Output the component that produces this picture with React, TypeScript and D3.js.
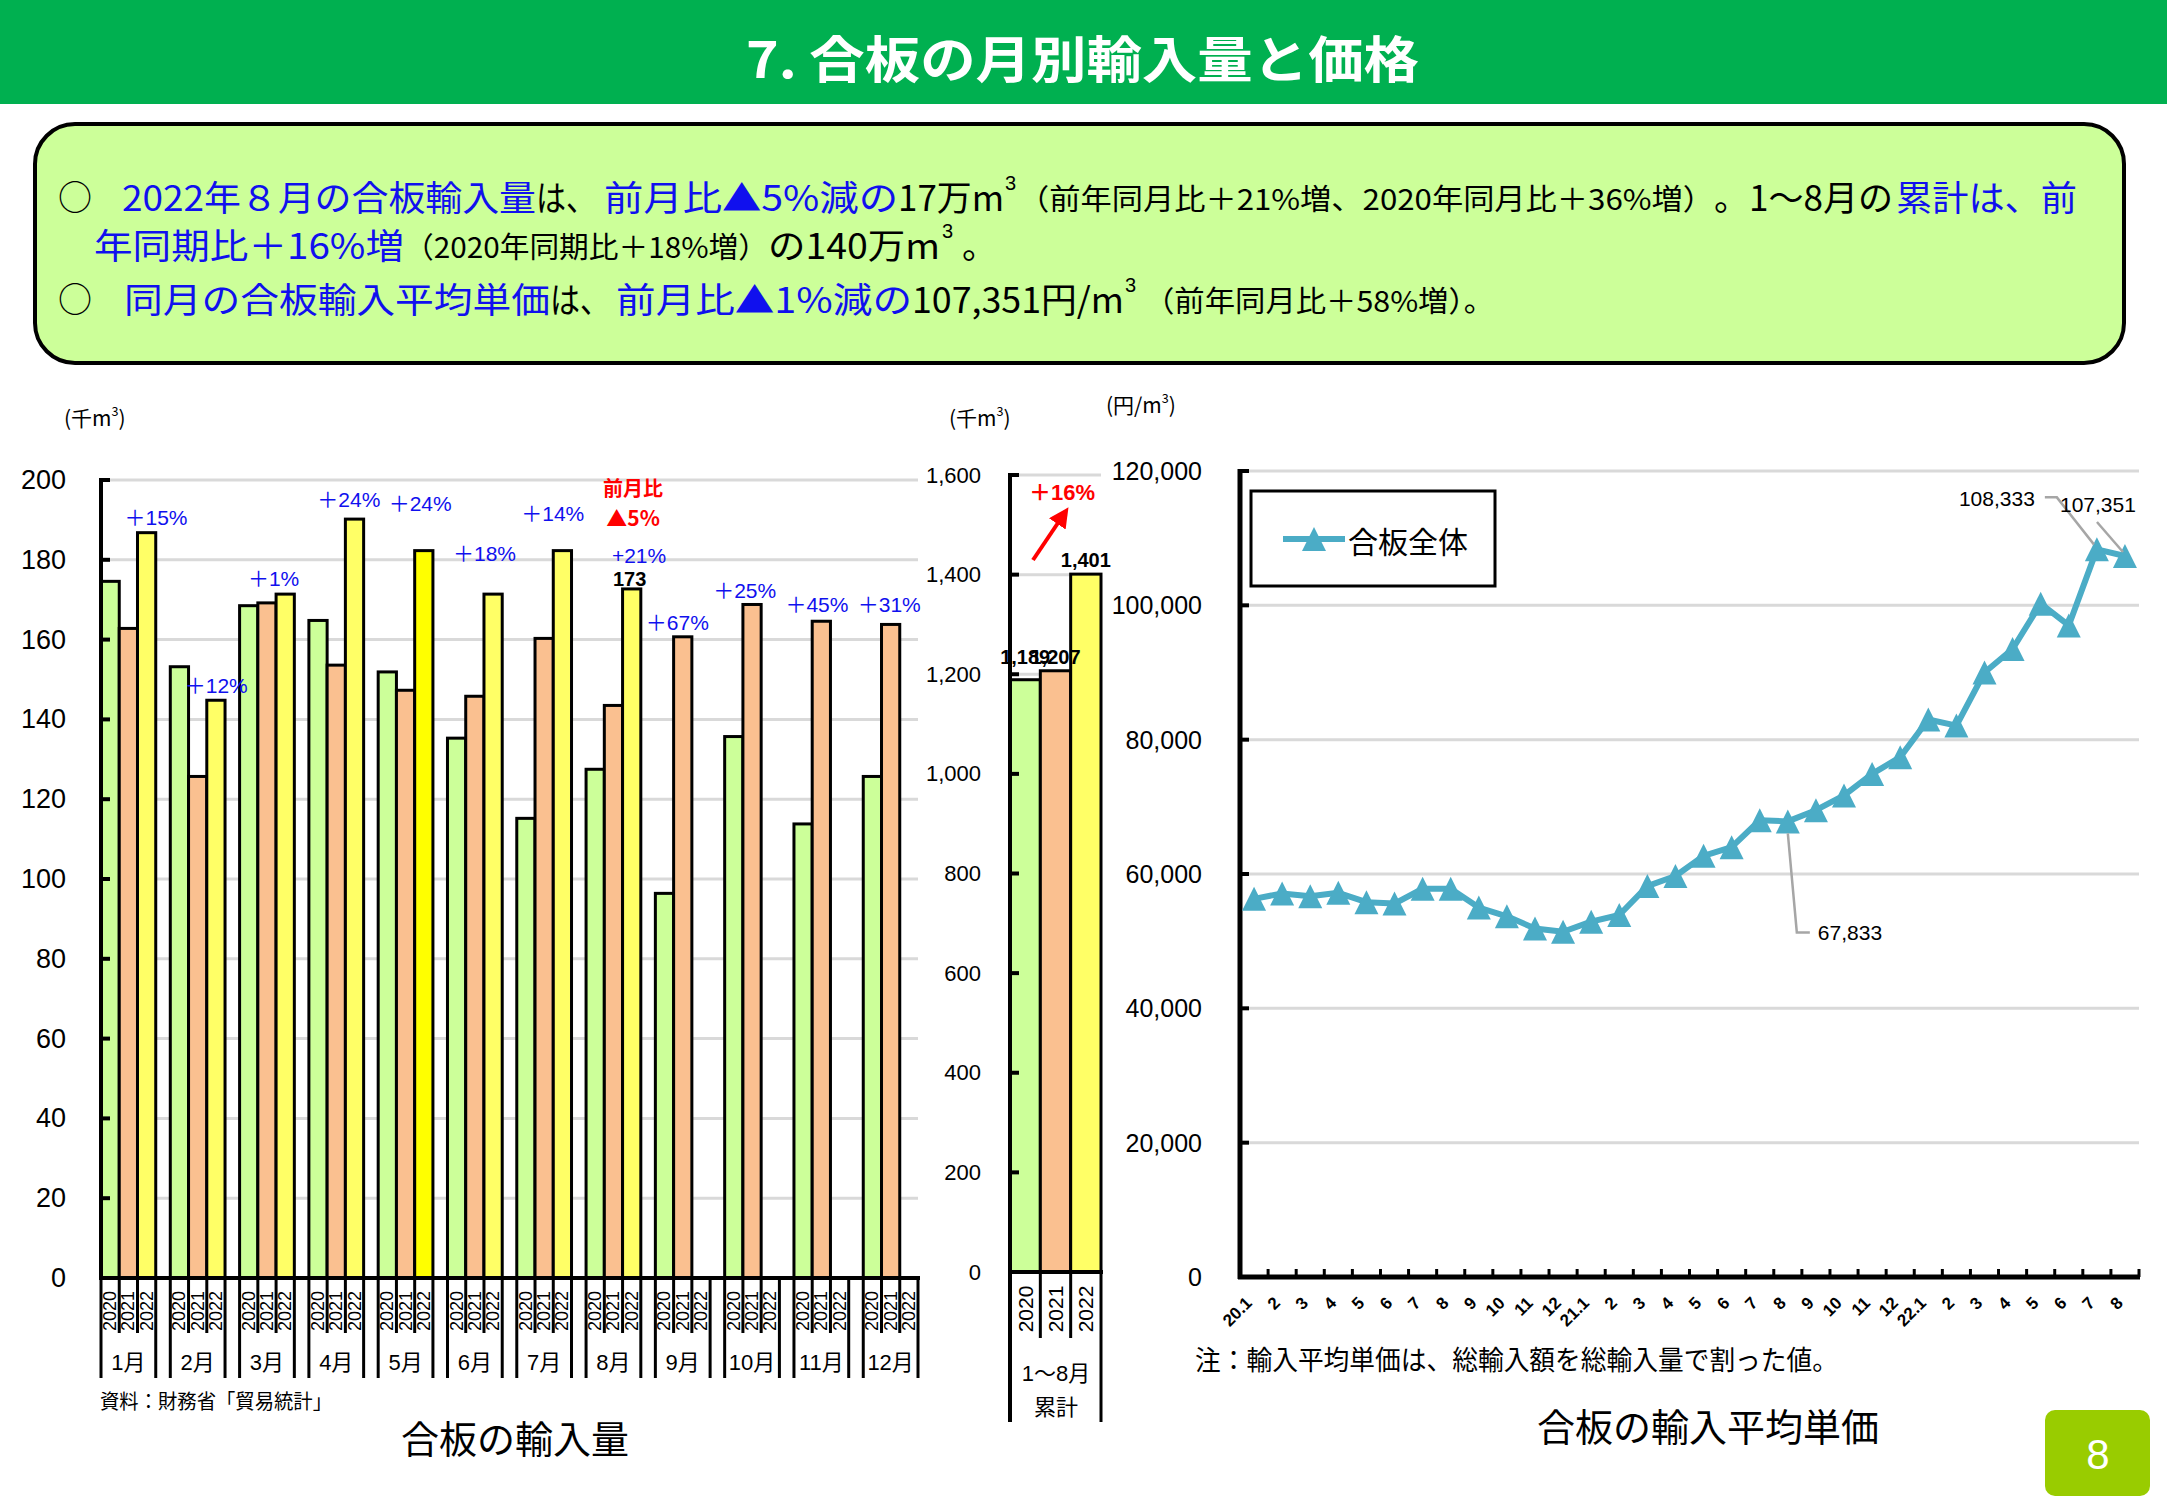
import React from "react";
import * as d3 from "d3";

// ---------------- DATA ----------------
const monthLabels = ["1月", "2月", "3月", "4月", "5月", "6月", "7月", "8月", "9月", "10月", "11月", "12月"];
const yearLabels = ["2020", "2021", "2022"];
const imports2020 = [174.6, 153.2, 168.5, 164.8, 151.9, 135.3, 115.2, 127.5, 96.4, 135.7, 113.8, 125.7];
const imports2021 = [162.8, 125.7, 169.2, 153.6, 147.3, 145.8, 160.3, 143.5, 160.7, 168.8, 164.6, 163.8];
const imports2022 = [186.8, 144.8, 171.4, 190.2, 182.3, 171.4, 182.3, 172.7, null, null, null, null];
const yoyLabels = ["＋15%", "＋12%", "＋1%", "＋24%", "＋24%", "＋18%", "＋14%", "+21%", "＋67%", "＋25%", "＋45%", "＋31%"];
const volumeTicks = [0, 20, 40, 60, 80, 100, 120, 140, 160, 180, 200];

const cumulativeYears = ["2020", "2021", "2022"];
const cumulativeValues = [1189, 1207, 1401];
const cumulativeLabels = ["1,189", "1,207", "1,401"];
const cumulativeTicks = [0, 200, 400, 600, 800, 1000, 1200, 1400, 1600];

const priceLabels = [
  "20.1", "2", "3", "4", "5", "6", "7", "8", "9", "10", "11", "12",
  "21.1", "2", "3", "4", "5", "6", "7", "8", "9", "10", "11", "12",
  "22.1", "2", "3", "4", "5", "6", "7", "8",
];
const priceValues = [
  56300, 57100, 56700, 57200, 55800, 55600, 57800, 57800, 55000, 53700, 51900, 51400,
  52900, 53900, 58200, 59700, 62700, 64000, 68000, 67833, 69500, 71700, 74900, 77400,
  83000, 82100, 90000, 93500, 100250, 97000, 108333, 107351,
];
const priceTicks = [0, 20000, 40000, 60000, 80000, 100000, 120000];
const priceTickLabels = ["0", "20,000", "40,000", "60,000", "80,000", "100,000", "120,000"];

// ---------------- LAYOUT (not data) ----------------
// annotation placement: offset from month band start, and height in value units
const yoyLayout = [
  { dx: 55, v: 190.7 }, { dx: 46, v: 148.6 }, { dx: 34, v: 175.2 }, { dx: 40, v: 195.2 },
  { dx: 42, v: 194.0 }, { dx: 37, v: 181.7 }, { dx: 36, v: 191.7 }, { dx: 53, v: 181.2 },
  { dx: 22, v: 164.4 }, { dx: 20, v: 172.4 }, { dx: 23, v: 168.7 }, { dx: 26, v: 168.9 },
];

const BLUE = "#1010EE";
const JP = "'Noto Sans CJK JP', sans-serif";
const NUM = "'Liberation Sans', 'Noto Sans CJK JP', sans-serif";

type Seg = { t: string; x: number; y: number; w?: number; s: number; c: string; sup?: boolean };
const infoSegs: Seg[] = [
  { t: "○", x: 58, y: 195, s: 34, c: "#000" },
  { t: "2022年８月の合板輸入量", x: 122, y: 195, w: 414, s: 35, c: BLUE },
  { t: "は、", x: 536, y: 195, w: 60, s: 35, c: "#000" },
  { t: "前月比▲5%減の", x: 604, y: 195, w: 294, s: 35, c: BLUE },
  { t: "17万m", x: 898, y: 195, w: 106, s: 35, c: "#000" },
  { t: "3", x: 1005, y: 183, s: 20, c: "#000", sup: true },
  { t: "（前年同月比＋21%増、2020年同月比＋36%増）", x: 1018, y: 197, w: 696, s: 29, c: "#000" },
  { t: "。1～8月の", x: 1714, y: 195, w: 179, s: 35, c: "#000" },
  { t: "累計は、前", x: 1896, y: 195, w: 181, s: 35, c: BLUE },

  { t: "年同期比＋16%増", x: 94, y: 243, w: 310, s: 35, c: BLUE },
  { t: "（2020年同期比＋18%増）", x: 404, y: 245, w: 364, s: 29, c: "#000" },
  { t: "の140万m", x: 768, y: 243, w: 172, s: 35, c: "#000" },
  { t: "3", x: 942, y: 231, s: 20, c: "#000", sup: true },
  { t: "。", x: 962, y: 243, s: 35, c: "#000" },

  { t: "○", x: 58, y: 297, s: 34, c: "#000" },
  { t: "同月の合板輸入平均単価", x: 124, y: 297, w: 426, s: 35, c: BLUE },
  { t: "は、", x: 550, y: 297, w: 60, s: 35, c: "#000" },
  { t: "前月比▲1%減の", x: 616, y: 297, w: 296, s: 35, c: BLUE },
  { t: "107,351円/m", x: 912, y: 297, w: 212, s: 35, c: "#000" },
  { t: "3", x: 1125, y: 285, s: 20, c: "#000", sup: true },
  { t: "（前年同月比＋58%増）。", x: 1144, y: 299, w: 350, s: 29, c: "#000" },
];

const W = 2167;
const H = 1500;

function Unit({ x, y, label, size }: { x: number; y: number; label: string; size: number }) {
  return (
    <text x={x} y={y} fontSize={size} fontFamily={JP} dominantBaseline="central">
      {label}
      <tspan fontSize={size * 0.6} dy={-size * 0.35}>3</tspan>
      <tspan dy={size * 0.35}>)</tspan>
    </text>
  );
}

export default function App() {
  // ---------- left: monthly volume ----------
  const yL = d3.scaleLinear().domain([0, 200]).range([1278, 480]);
  const xM = d3.scaleBand<string>().domain(monthLabels).range([101, 918]).paddingInner(0.21).paddingOuter(0);
  const xY = d3.scaleBand<string>().domain(yearLabels).range([0, xM.bandwidth()]).padding(0);
  const series = [imports2020, imports2021, imports2022];
  const colors = ["#CCFF99", "#FAC090", "#FFFF66"];

  // ---------- middle: cumulative ----------
  const yC = d3.scaleLinear().domain([0, 1600]).range([1272, 475]);
  const xC = d3.scaleBand<string>().domain(cumulativeYears).range([1010, 1101]).padding(0);

  // ---------- right: price ----------
  const yP = d3.scaleLinear().domain([0, 120000]).range([1277, 471]);
  const xP = d3.scalePoint<number>().domain(d3.range(priceValues.length)).range([1240, 2139]).padding(0.5);
  const pStep = xP.step();
  const linePath = d3.line<number>().x((_, i) => xP(i) as number).y((d) => yP(d))(priceValues) || "";
  const tri = "M0,-12L12,12L-12,12Z";
  const lineColor = "#4BACC6";

  const i7 = priceValues.length - 2;
  const i8 = priceValues.length - 1;
  const iAug21 = 19;

  return (
    <svg
      width={W}
      height={H}
      viewBox={`0 0 ${W} ${H}`}
      style={{ position: "absolute", left: 0, top: 0, display: "block", background: "#fff" }}
      fontFamily={NUM}
    >
      <defs>
        <marker id="arrowRed" viewBox="0 0 10 10" refX="6" refY="5" markerWidth="5" markerHeight="5" orient="auto">
          <path d="M0,0L10,5L0,10Z" fill="#FF0000" />
        </marker>
      </defs>
      <rect x={0} y={0} width={W} height={H} fill="#fff" />

      {/* header */}
      <rect x={0} y={0} width={W} height={104} fill="#00B050" />
      <text x={746} y={56} fontSize={50} fontWeight="bold" fill="#fff" fontFamily={JP} dominantBaseline="central"
        textLength={673} lengthAdjust="spacingAndGlyphs">7. 合板の月別輸入量と価格</text>

      {/* info box */}
      <rect x={35} y={124} width={2089} height={239} rx={40} ry={40} fill="#CCFF99" stroke="#000" strokeWidth={4} />
      {infoSegs.map((s, i) => (
        <text key={i} x={s.x} y={s.y} fontSize={s.s} fill={s.c} fontFamily={s.sup ? NUM : JP}
          dominantBaseline="central"
          {...(s.w ? { textLength: s.w, lengthAdjust: "spacingAndGlyphs" } : {})}>{s.t}</text>
      ))}

      {/* ===== left chart ===== */}
      <Unit x={64} y={417} label="(千m" size={21} />
      {volumeTicks.filter((t) => t > 0).map((t) => (
        <line key={t} x1={101} x2={918} y1={yL(t)} y2={yL(t)} stroke="#D9D9D9" strokeWidth={3} />
      ))}
      {monthLabels.map((m, i) =>
        series.map((s, j) => {
          const v = s[i];
          if (v == null) return null;
          const x = (xM(m) as number) + (xY(yearLabels[j]) as number);
          const fill = i === 4 && j === 2 ? "#FFFF00" : colors[j];
          return (
            <rect key={`${m}-${j}`} x={x} y={yL(v)} width={xY.bandwidth()} height={yL(0) - yL(v)}
              fill={fill} stroke="#000" strokeWidth={3} />
          );
        })
      )}
      {/* y axis */}
      <line x1={101} x2={101} y1={yL(200) - 2} y2={yL(0) + 2} stroke="#000" strokeWidth={4} />
      {volumeTicks.map((t) => (
        <g key={t}>
          <line x1={101} x2={110} y1={yL(t)} y2={yL(t)} stroke="#000" strokeWidth={4} />
          <text x={66} y={yL(t)} fontSize={27} textAnchor="end" dominantBaseline="central">{t}</text>
        </g>
      ))}
      <line x1={99} x2={920} y1={yL(0)} y2={yL(0)} stroke="#000" strokeWidth={4} />
      {/* x axis labels */}
      {monthLabels.map((m, i) => {
        const x0 = xM(m) as number;
        const x1 = x0 + xM.bandwidth();
        return (
          <g key={m}>
            <line x1={x0} x2={x0} y1={yL(0)} y2={1378} stroke="#000" strokeWidth={3} />
            <line x1={x1} x2={x1} y1={yL(0)} y2={1378} stroke="#000" strokeWidth={3} />
            {yearLabels.map((yv, j) => {
              const sx = x0 + (xY(yv) as number);
              const cx = sx + xY.bandwidth() / 2;
              return (
                <g key={yv}>
                  {j > 0 && <line x1={sx} x2={sx} y1={yL(0)} y2={1333} stroke="#000" strokeWidth={3} />}
                  <text transform={`translate(${cx},1311) rotate(-90)`} fontSize={18} textAnchor="middle"
                    dominantBaseline="central">{yv}</text>
                </g>
              );
            })}
            <text x={(x0 + x1) / 2} y={1362} fontSize={22} textAnchor="middle" dominantBaseline="central">{m}</text>
          </g>
        );
      })}
      {/* annotations */}
      {monthLabels.map((m, i) => (
        <text key={m} x={(xM(m) as number) + yoyLayout[i].dx} y={yL(yoyLayout[i].v)} fontSize={21} fill={BLUE}
          textAnchor="middle" dominantBaseline="central">{yoyLabels[i]}</text>
      ))}
      <text x={(xM("8月") as number) + 47} y={yL(198.2)} fontSize={20} fill="#FF0000" fontWeight="bold" fontFamily={JP}
        textAnchor="middle" dominantBaseline="central">前月比</text>
      <text x={(xM("8月") as number) + 47} y={yL(190.8)} fontSize={21} fill="#FF0000" fontWeight="bold" fontFamily={JP}
        textAnchor="middle" dominantBaseline="central">▲5%</text>
      <text x={(xM("8月") as number) + (xY("2022") as number) + xY.bandwidth() / 2 - 2} y={yL(imports2022[7] as number) - 10}
        fontSize={20} fontWeight="bold" textAnchor="middle" dominantBaseline="central">173</text>
      <text x={100} y={1400} fontSize={20} fontFamily={JP} dominantBaseline="central"
        textLength={232} lengthAdjust="spacingAndGlyphs">資料：財務省「貿易統計」</text>
      <text x={515} y={1436} fontSize={38} fontFamily={JP} textAnchor="middle" dominantBaseline="central">合板の輸入量</text>

      {/* ===== cumulative chart ===== */}
      <Unit x={949} y={417} label="(千m" size={21} />
      {cumulativeTicks.filter((t) => t > 0).map((t) => (
        <line key={t} x1={1010} x2={1101} y1={yC(t)} y2={yC(t)} stroke="#D9D9D9" strokeWidth={3} />
      ))}
      {cumulativeValues.map((v, j) => (
        <rect key={j} x={xC(cumulativeYears[j]) as number} y={yC(v)} width={xC.bandwidth()} height={yC(0) - yC(v)}
          fill={colors[j]} stroke="#000" strokeWidth={3} />
      ))}
      <line x1={1010} x2={1010} y1={yC(1600) - 2} y2={1422} stroke="#000" strokeWidth={4} />
      <line x1={1101} x2={1101} y1={yC(0)} y2={1422} stroke="#000" strokeWidth={3} />
      {cumulativeTicks.map((t) => (
        <g key={t}>
          <line x1={1010} x2={1019} y1={yC(t)} y2={yC(t)} stroke="#000" strokeWidth={4} />
          <text x={981} y={yC(t)} fontSize={22} textAnchor="end" dominantBaseline="central">{d3.format(",")(t)}</text>
        </g>
      ))}
      <line x1={1008} x2={1103} y1={yC(0)} y2={yC(0)} stroke="#000" strokeWidth={4} />
      {cumulativeYears.map((yv, j) => {
        const sx = xC(yv) as number;
        return (
          <g key={yv}>
            {j > 0 && <line x1={sx} x2={sx} y1={yC(0)} y2={1338} stroke="#000" strokeWidth={3} />}
            <text transform={`translate(${sx + xC.bandwidth() / 2},1309) rotate(-90)`} fontSize={21}
              textAnchor="middle" dominantBaseline="central">{yv}</text>
          </g>
        );
      })}
      <text x={1056} y={1373} fontSize={22} textAnchor="middle" dominantBaseline="central">1～8月</text>
      <text x={1056} y={1405} fontSize={22} fontFamily={JP} textAnchor="middle" dominantBaseline="central">累計</text>
      {cumulativeValues.map((v, j) => {
        const top = j < 2 ? yC(d3.max(cumulativeValues.slice(0, 2)) as number) : yC(v);
        return (
          <text key={j} x={(xC(cumulativeYears[j]) as number) + xC.bandwidth() / 2} y={top - 14} fontSize={20}
            fontWeight="bold" textAnchor="middle" dominantBaseline="central">{cumulativeLabels[j]}</text>
        );
      })}
      <text x={1062} y={492} fontSize={22} fill="#FF0000" fontWeight="bold" textAnchor="middle"
        dominantBaseline="central">＋16%</text>
      <line x1={1033} y1={560} x2={1064} y2={514} stroke="#FF0000" strokeWidth={4} markerEnd="url(#arrowRed)" />

      {/* ===== price chart ===== */}
      <Unit x={1106} y={404} label="(円/m" size={21} />
      {priceTicks.filter((t) => t > 0).map((t) => (
        <line key={t} x1={1240} x2={2139} y1={yP(t)} y2={yP(t)} stroke="#D9D9D9" strokeWidth={3} />
      ))}
      <line x1={1240} x2={1240} y1={yP(120000) - 2} y2={yP(0) + 2} stroke="#000" strokeWidth={5} />
      {priceTicks.map((t, i) => (
        <g key={t}>
          <line x1={1240} x2={1249} y1={yP(t)} y2={yP(t)} stroke="#000" strokeWidth={4} />
          <text x={1202} y={yP(t)} fontSize={25} textAnchor="end" dominantBaseline="central">{priceTickLabels[i]}</text>
        </g>
      ))}
      <line x1={1238} x2={2140} y1={yP(0)} y2={yP(0)} stroke="#000" strokeWidth={5} />
      {priceLabels.map((lab, i) => {
        const cx = xP(i) as number;
        const bx = cx + pStep / 2;
        return (
          <g key={i}>
            <line x1={bx} x2={bx} y1={yP(0)} y2={yP(0) - 8} stroke="#000" strokeWidth={3} />
            <text transform={`translate(${cx - 1},1304) rotate(-45)`} fontSize={17} fontWeight="bold"
              textAnchor="end">{lab}</text>
          </g>
        );
      })}
      <path d={linePath} fill="none" stroke={lineColor} strokeWidth={6} strokeLinejoin="round" />
      {priceValues.map((v, i) => (
        <path key={i} d={tri} transform={`translate(${xP(i)},${yP(v)})`} fill={lineColor} />
      ))}
      {/* data labels */}
      <polyline points={`${xP(iAug21)},${yP(priceValues[iAug21]) + 12} ${(xP(iAug21) as number) + 9},${yP(priceValues[iAug21]) + 111} ${(xP(iAug21) as number) + 22},${yP(priceValues[iAug21]) + 111}`}
        fill="none" stroke="#A6A6A6" strokeWidth={2.5} />
      <text x={(xP(iAug21) as number) + 30} y={yP(priceValues[iAug21]) + 111} fontSize={21} dominantBaseline="central">67,833</text>
      <polyline points={`${(xP(i7) as number) - 52},${yP(priceValues[i7]) - 52} ${(xP(i7) as number) - 40},${yP(priceValues[i7]) - 52} ${(xP(i7) as number) - 3},${yP(priceValues[i7]) - 5}`}
        fill="none" stroke="#A6A6A6" strokeWidth={2.5} />
      <text x={(xP(i7) as number) - 62} y={yP(priceValues[i7]) - 51} fontSize={21} textAnchor="end" dominantBaseline="central">108,333</text>
      <line x1={(xP(i8) as number) - 28} y1={yP(priceValues[i8]) - 34} x2={(xP(i8) as number) - 2} y2={yP(priceValues[i8]) - 4}
        stroke="#A6A6A6" strokeWidth={2.5} />
      <text x={(xP(i8) as number) - 65} y={yP(priceValues[i8]) - 51} fontSize={21} dominantBaseline="central">107,351</text>

      {/* legend */}
      <rect x={1251} y={491} width={244} height={95} fill="#fff" stroke="#000" strokeWidth={3} />
      <line x1={1283} x2={1345} y1={539} y2={539} stroke={lineColor} strokeWidth={6} />
      <path d={tri} transform="translate(1314,539)" fill={lineColor} />
      <text x={1348} y={540} fontSize={30} fontFamily={JP} dominantBaseline="central">合板全体</text>

      <text x={1195} y={1358} fontSize={27} fontFamily={JP} dominantBaseline="central"
        textLength={643} lengthAdjust="spacingAndGlyphs">注：輸入平均単価は、総輸入額を総輸入量で割った値。</text>
      <text x={1708} y={1424} fontSize={38} fontFamily={JP} textAnchor="middle" dominantBaseline="central">合板の輸入平均単価</text>

      {/* page badge */}
      <rect x={2045} y={1410} width={105} height={86} rx={10} ry={10} fill="#99CC00" />
      <text x={2098} y={1454} fontSize={42} fill="#fff" textAnchor="middle" dominantBaseline="central">8</text>
    </svg>
  );
}
